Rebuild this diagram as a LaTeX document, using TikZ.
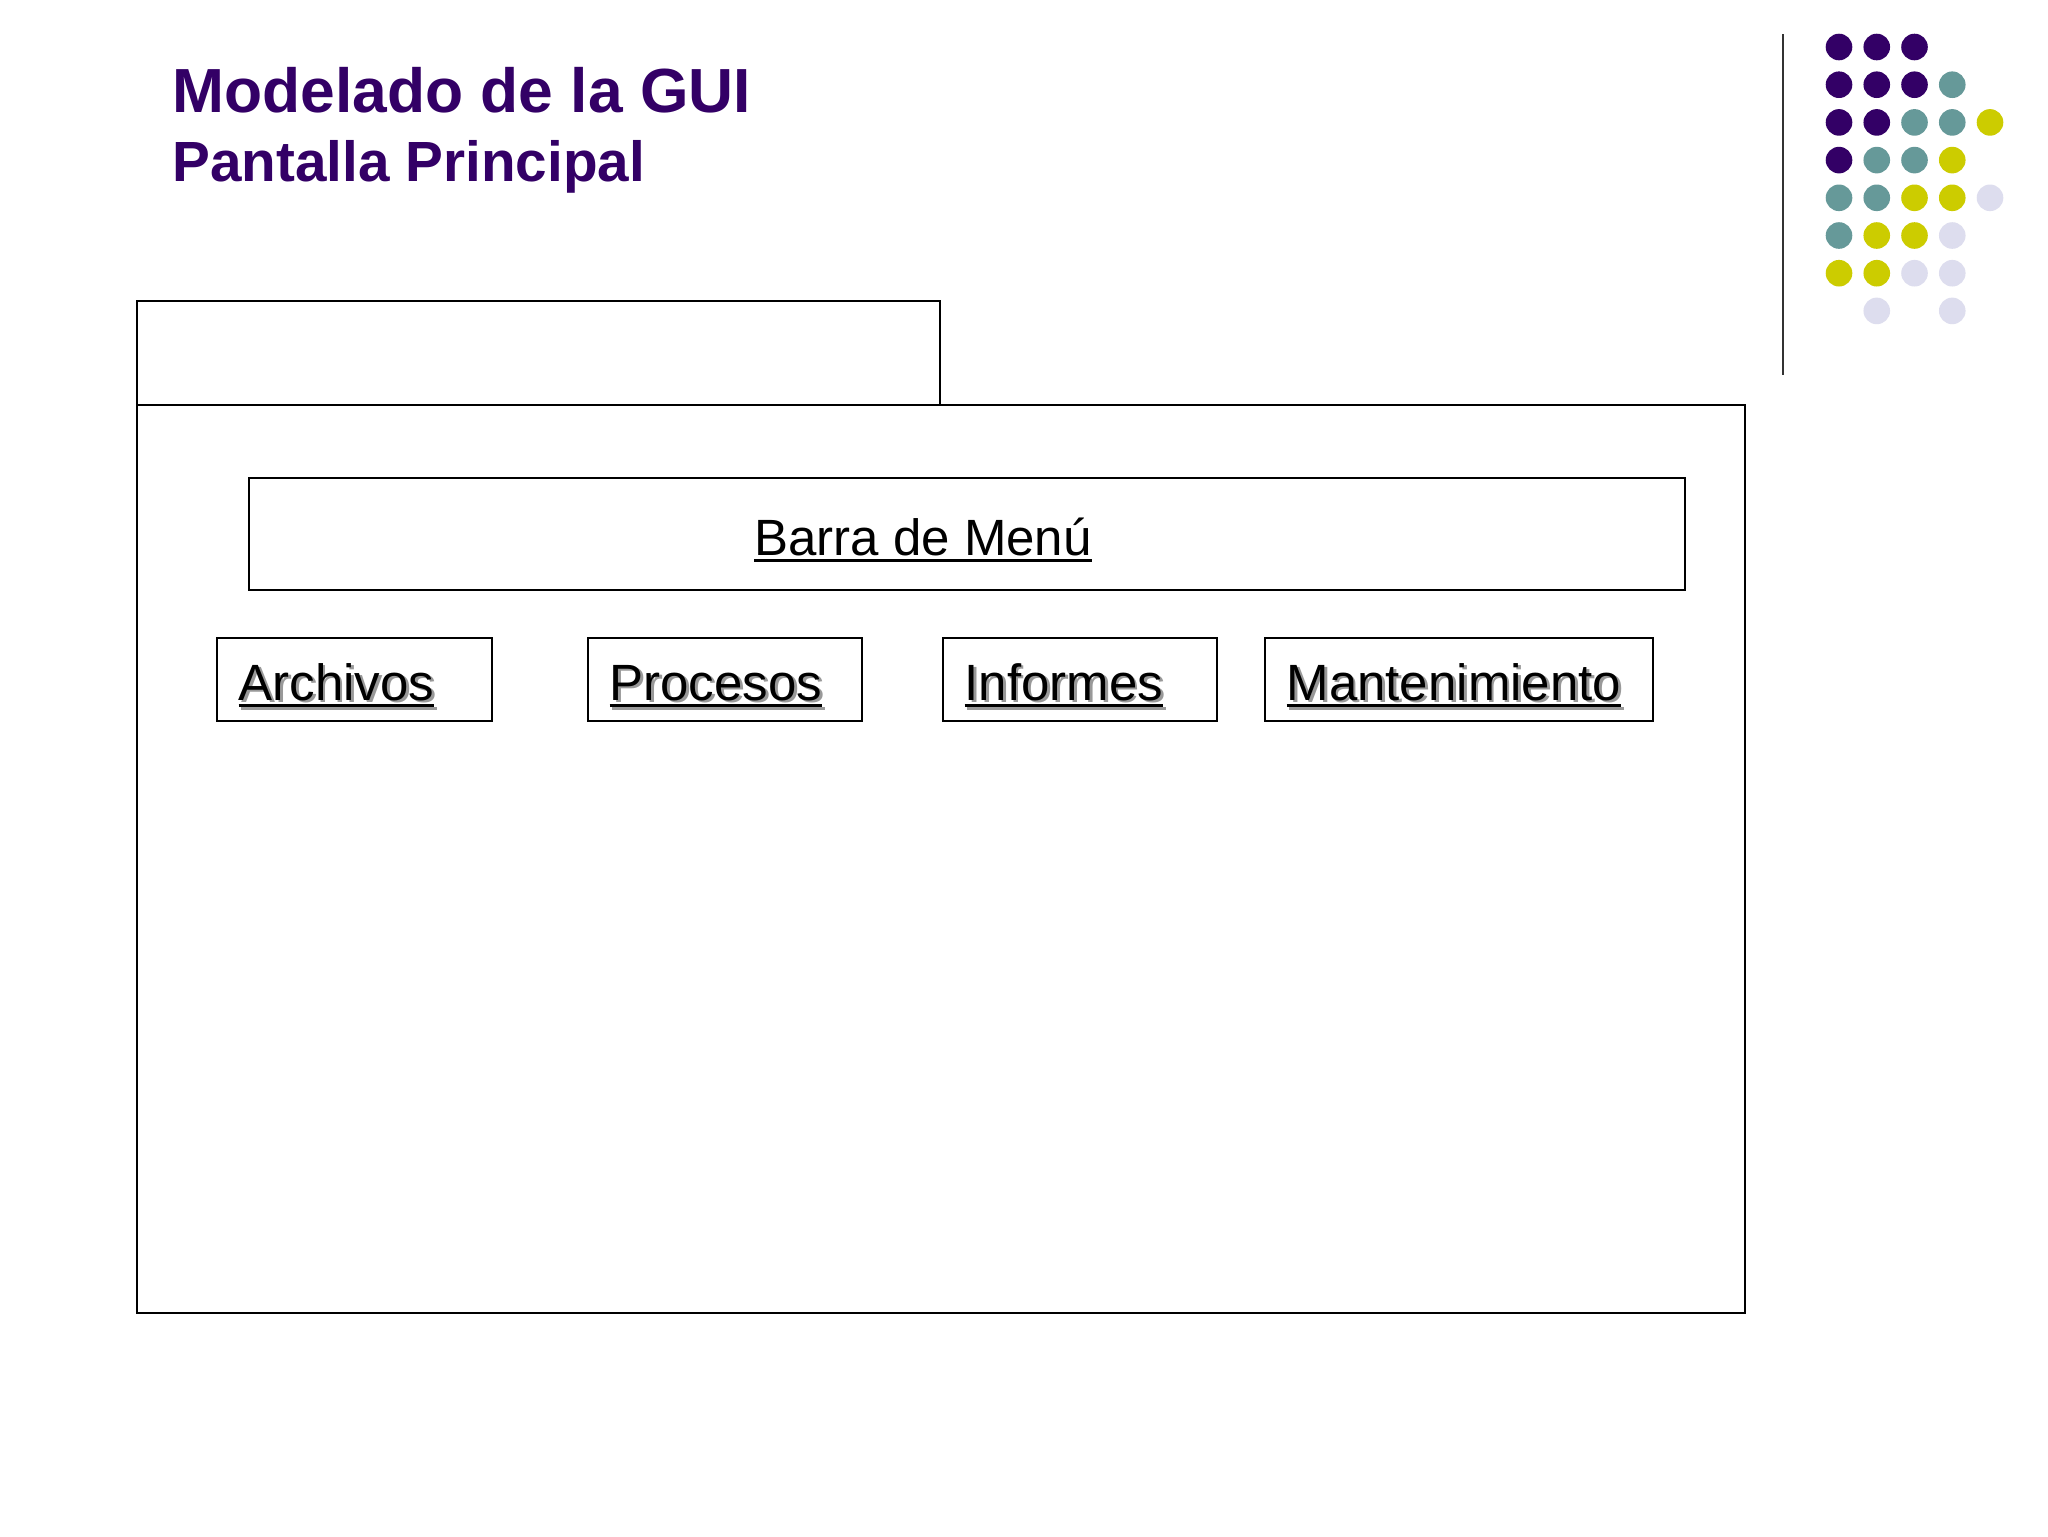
\documentclass[tikz,border=0pt]{standalone}
\usepackage{fontspec}
\setmainfont{Liberation Sans}
\usetikzlibrary{positioning}

\definecolor{morado}{HTML}{330066}
\definecolor{verde}{HTML}{669999}
\definecolor{amarillo}{HTML}{CCCC00}
\definecolor{lila}{HTML}{DDDDEE}

\newcommand{\subr}[1]{\leavevmode\setbox0\hbox{#1}\rlap{\rule[-2.5pt]{\wd0}{1.2pt}}\box0}
\newcommand{\sombra}[1]{\makebox[0pt][l]{\kern1pt\raisebox{-1pt}{\textcolor{black!40}{\subr{#1}}}}\subr{#1}}

\tikzset{
  caja/.style={draw=black, line width=0.75pt},
  titulo/.style={anchor=base west, inner sep=0pt, text=morado, font=\bfseries\fontsize{22}{26}\selectfont},
  subtitulo/.style={anchor=base west, inner sep=0pt, text=morado, font=\bfseries\fontsize{20}{24}\selectfont},
  etiq/.style={anchor=base west, inner sep=0pt, font=\fontsize{18}{21}\selectfont}
}

\begin{document}
\begin{tikzpicture}[x=0.3529pt, y=-0.3529pt]

\useasboundingbox[fill=white] (0,0) rectangle (2048,1536);

\node[titulo] (tit) at (172,112) {Modelado de la GUI};
\node[subtitulo] (sub) at (172,181) {Pantalla Principal};

%ventana
\draw[caja] (137,301) rectangle (940,405);
\draw[caja] (137,405) rectangle (1745,1313);

\draw[caja] (249,478) rectangle (1685,590);
\node[etiq, anchor=base] (barra) at (923,555) {\subr{Barra de Menú}};

%botones
\foreach \xa/\xb/\nm/\txt in {217/492/arch/Archivos, 588/862/proc/Procesos, 943/1217/inf/Informes, 1265/1653/mant/Mantenimiento}{
  \draw[caja] (\xa,638) rectangle (\xb,721);
  \node[etiq] (\nm) at (\xa+21,700) {\sombra{\txt}};
}

%adorno
\draw[line width=0.75pt, black!80] (1783,34) -- (1783,375);
\foreach \fila [count=\r from 0] in {
  {morado,morado,morado},
  {morado,morado,morado,verde},
  {morado,morado,verde,verde,amarillo},
  {morado,verde,verde,amarillo},
  {verde,verde,amarillo,amarillo,lila},
  {verde,amarillo,amarillo,lila},
  {amarillo,amarillo,lila,lila},
  {none,lila,none,lila}}{
  \foreach \col [count=\c from 0] in \fila{
    \fill[fill=\col] (1839+37.75*\c, 47+37.7*\r) circle [radius=13.3];
  }
}

\end{tikzpicture}
\end{document}
